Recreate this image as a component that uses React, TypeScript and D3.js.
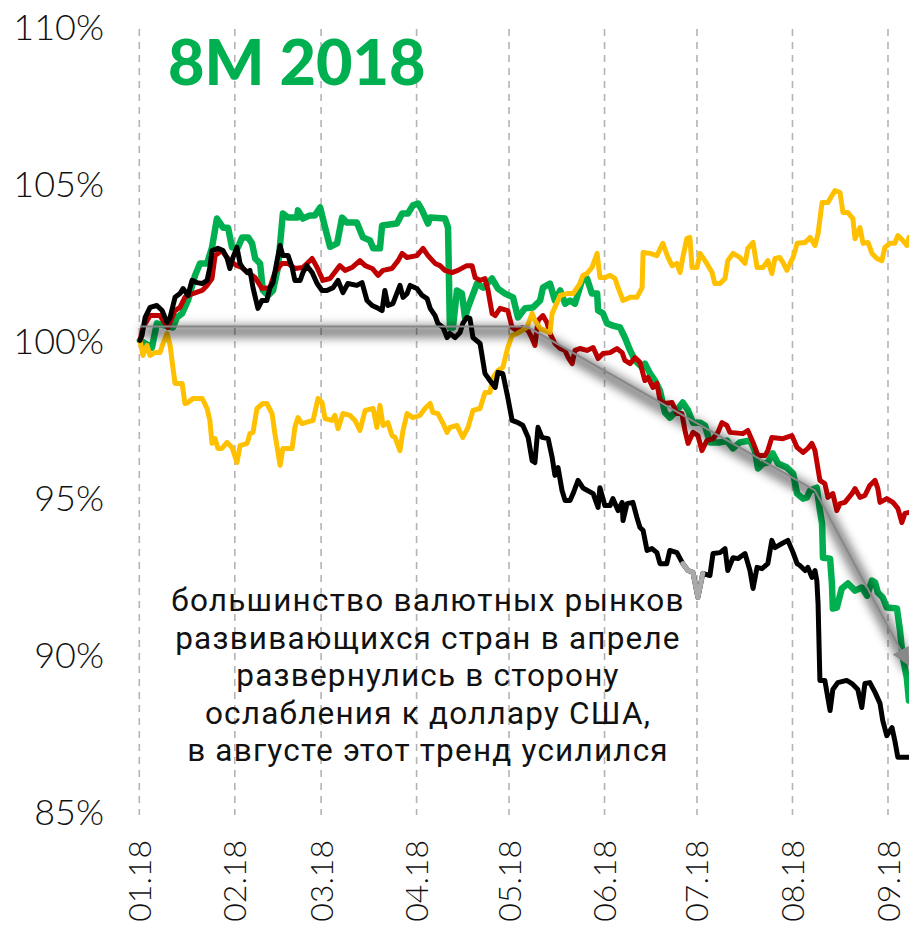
import React from "react";
import * as d3 from "d3";

// ---- data: [day offset from 1 Jan 2018, value in %] ----
const GREEN: [number, number][] = [
  [0.2, 100.02], [4.1, 99.79], [5.7, 100.56], [10.9, 100.43], [12.2, 100.75], [13.9, 100.88], [15.8, 101.29],
  [18.1, 102.09], [19.7, 102.47], [22.0, 102.47], [23.6, 102.98], [25.2, 103.9], [27.2, 103.61], [28.8, 103.61],
  [30.1, 102.98], [32.0, 102.98], [33.4, 103.3], [35.3, 103.3], [36.6, 103.11], [37.6, 102.63], [39.2, 102.47],
  [40.1, 101.61], [41.8, 101.45], [43.4, 101.61], [45.0, 102.34], [46.6, 104.06], [48.3, 103.93], [51.2, 103.93],
  [51.5, 104.16], [53.1, 103.9], [55.4, 104.0], [57.0, 104.0], [58.7, 104.25], [60.3, 103.61], [61.9, 103.0],
  [64.2, 103.11], [65.8, 103.93], [67.4, 103.77], [70.6, 103.77], [72.6, 103.3], [74.9, 103.2], [75.9, 102.95],
  [78.1, 102.95], [78.8, 103.68], [83.6, 103.74], [85.3, 104.06], [87.2, 104.06], [88.8, 104.32], [90.5, 104.38],
  [91.8, 104.16], [93.7, 103.74], [94.4, 103.93], [99.2, 103.9], [100.2, 103.61], [100.8, 100.43], [101.8, 100.43],
  [103.1, 101.61], [104.7, 101.51], [105.7, 100.75], [106.7, 101.07], [109.6, 101.83], [111.6, 101.7], [114.5, 101.99],
  [116.4, 101.67], [118.7, 101.51], [121.3, 101.39], [122.9, 100.75], [125.2, 101.04], [127.8, 101.07], [130.1, 101.29],
  [131.0, 101.7], [133.3, 101.83], [134.9, 101.29], [136.6, 101.61], [138.2, 101.19], [139.8, 101.29], [141.4, 101.19],
  [143.7, 101.93], [145.3, 101.99], [146.9, 101.51], [148.6, 101.51], [148.9, 100.97], [150.5, 100.88], [151.8, 100.56],
  [153.7, 100.49], [156.0, 100.43], [157.6, 100.11], [159.3, 99.7], [160.9, 99.38], [163.2, 99.16], [164.1, 99.28],
  [165.8, 98.96], [167.4, 98.74], [169.0, 98.42], [170.6, 97.72], [172.2, 97.56], [174.5, 97.79], [176.4, 98.04],
  [178.1, 97.79], [179.7, 97.4], [182.0, 97.4], [183.6, 97.31], [185.2, 96.77], [188.5, 96.77], [190.7, 96.83],
  [192.7, 96.58], [194.9, 96.77], [198.2, 96.83], [199.8, 96.51], [200.8, 95.94], [202.4, 96.1], [204.0, 96.13],
  [205.6, 96.42], [207.3, 96.1], [210.2, 95.97], [212.2, 95.78], [213.5, 95.14], [215.4, 94.98], [216.7, 95.02],
  [217.7, 95.24], [219.9, 95.33], [220.9, 94.6], [221.6, 94.19], [221.9, 93.1], [224.2, 93.07], [224.8, 92.28],
  [225.1, 91.48], [226.4, 91.51], [228.0, 92.12], [230.0, 92.28], [232.3, 92.05], [234.5, 92.15], [236.2, 91.89],
  [237.8, 92.37], [238.8, 92.31], [239.7, 91.99], [241.3, 91.83], [242.6, 91.51], [245.9, 91.48], [246.9, 90.78],
  [247.8, 89.92], [249.1, 89.28], [249.8, 88.55],
];

const RED: [number, number][] = [
  [0.2, 100.02], [1.2, 100.43], [3.5, 100.81], [6.7, 100.81], [9.3, 100.43], [11.6, 100.97], [13.2, 101.07],
  [14.8, 101.39], [17.4, 101.51], [20.4, 101.61], [22.0, 101.77], [23.6, 101.99], [24.6, 102.72], [26.8, 102.88],
  [28.5, 102.66], [30.1, 102.5], [31.7, 102.4], [33.4, 102.34], [35.3, 102.18], [37.6, 102.02], [39.8, 101.67],
  [42.4, 101.7], [44.0, 102.18], [46.3, 102.47], [48.3, 102.47], [50.5, 102.31], [53.1, 102.34], [56.1, 102.63],
  [57.7, 102.34], [59.6, 101.93], [61.9, 101.99], [65.1, 102.4], [66.8, 102.25], [69.0, 102.34], [71.6, 102.56],
  [73.3, 102.4], [75.6, 102.31], [77.5, 102.09], [79.1, 102.25], [82.0, 102.31], [84.0, 102.56], [85.3, 102.79],
  [86.9, 102.66], [90.1, 102.72], [92.1, 102.95], [93.7, 102.72], [96.0, 102.47], [97.6, 102.4], [99.2, 102.25],
  [101.5, 102.18], [103.4, 102.25], [106.3, 102.4], [108.0, 102.4], [109.0, 102.02], [110.6, 101.93], [112.2, 101.99],
  [113.2, 101.61], [114.5, 100.88], [115.5, 100.81], [117.1, 101.04], [119.6, 100.97], [121.0, 100.43], [122.6, 100.33],
  [124.2, 100.43], [126.2, 100.33], [127.5, 100.08], [128.4, 99.86], [129.4, 100.65], [131.0, 100.81], [132.3, 100.59],
  [133.3, 100.24], [134.9, 99.92], [136.6, 99.76], [138.2, 99.7], [139.2, 99.47], [140.5, 99.28], [141.4, 99.7],
  [143.0, 99.76], [145.3, 99.7], [147.3, 99.79], [148.9, 99.44], [150.5, 99.6], [152.8, 99.63], [155.0, 99.76],
  [156.7, 99.63], [157.6, 99.38], [159.3, 99.28], [160.9, 99.47], [162.5, 99.32], [164.1, 98.74], [165.1, 98.84],
  [166.7, 98.52], [168.0, 98.65], [169.0, 98.11], [170.6, 98.01], [172.9, 98.04], [174.5, 97.69], [176.1, 97.69],
  [177.1, 97.15], [178.1, 96.74], [179.7, 97.09], [181.3, 96.99], [182.6, 96.51], [184.2, 96.83], [186.2, 96.89],
  [187.8, 97.09], [189.1, 97.4], [190.7, 97.31], [191.7, 97.09], [195.9, 97.05], [197.5, 97.15], [199.2, 96.77],
  [200.8, 96.35], [203.1, 96.35], [204.0, 96.51], [205.3, 96.93], [208.9, 96.89], [211.8, 96.99], [213.5, 96.61],
  [215.4, 96.45], [217.0, 96.58], [218.3, 96.74], [219.3, 96.51], [220.9, 95.56], [222.5, 95.46], [223.5, 95.02],
  [225.1, 95.14], [226.4, 94.6], [227.4, 94.82], [229.0, 94.86], [231.3, 95.14], [232.3, 95.3], [233.9, 95.02],
  [235.5, 95.08], [237.1, 95.4], [238.8, 95.56], [239.7, 95.3], [240.4, 94.86], [242.6, 94.98], [244.6, 94.86],
  [246.2, 94.67], [247.5, 94.22], [248.5, 94.51], [249.8, 94.54],
];

const YELLOW: [number, number][] = [
  [0.2, 100.02], [1.2, 99.54], [2.5, 99.86], [3.5, 99.54], [5.1, 99.63], [6.7, 99.63], [7.7, 99.92], [9.0, 100.24],
  [10.0, 99.86], [10.9, 99.16], [11.6, 98.65], [13.9, 98.65], [14.8, 98.01], [15.8, 98.04], [17.4, 98.17],
  [20.4, 98.17], [22.0, 97.85], [22.9, 97.47], [23.6, 96.74], [24.6, 96.89], [25.5, 96.58], [26.8, 96.58],
  [28.5, 96.77], [30.1, 96.61], [31.7, 96.13], [32.7, 96.67], [35.0, 96.74], [35.9, 97.05], [36.9, 97.09],
  [38.2, 97.85], [40.1, 98.01], [41.4, 98.01], [43.1, 97.69], [44.0, 97.05], [45.7, 96.04], [46.6, 96.58],
  [49.6, 96.58], [50.5, 97.25], [51.5, 97.56], [52.8, 97.37], [56.4, 97.47], [58.0, 98.17], [59.3, 98.04],
  [60.3, 97.53], [62.5, 97.47], [63.5, 97.63], [64.5, 97.21], [66.1, 97.69], [68.4, 97.63], [70.0, 97.47],
  [71.6, 97.15], [73.3, 97.79], [75.9, 97.85], [77.1, 97.25], [78.1, 97.95], [79.1, 97.31], [80.7, 97.4],
  [82.0, 96.99], [83.0, 96.93], [84.6, 96.51], [85.6, 97.15], [86.9, 97.69], [88.8, 97.56], [91.1, 97.63],
  [92.7, 97.85], [94.4, 98.01], [95.3, 97.72], [96.9, 97.69], [98.6, 97.37], [99.9, 97.09], [100.8, 97.25],
  [103.1, 97.31], [105.0, 96.93], [106.7, 97.25], [108.3, 97.79], [110.6, 97.85], [112.2, 98.36], [113.8, 98.36],
  [114.8, 98.84], [116.4, 99.06], [118.0, 99.16], [119.6, 99.79], [121.0, 100.18], [122.6, 100.24], [124.2, 100.33],
  [125.8, 100.43], [127.5, 100.88], [128.4, 100.65], [130.1, 100.4], [131.7, 100.33], [133.3, 100.27], [134.0, 100.88],
  [135.6, 101.23], [136.6, 101.45], [138.8, 101.51], [140.8, 101.51], [142.1, 101.7], [143.0, 101.83], [144.0, 102.09],
  [145.3, 102.15], [146.9, 102.34], [148.6, 102.79], [149.5, 102.02], [151.1, 102.02], [152.8, 102.09], [154.4, 101.99],
  [155.4, 101.7], [157.0, 101.29], [159.3, 101.39], [161.5, 101.39], [163.2, 101.7], [163.5, 102.82], [165.8, 102.79],
  [168.0, 102.72], [169.9, 103.11], [171.6, 102.66], [172.9, 102.4], [174.5, 102.47], [175.5, 102.18], [176.4, 102.66],
  [177.7, 103.26], [178.7, 103.3], [179.4, 102.34], [181.0, 102.34], [182.0, 102.79], [183.6, 102.56], [184.6, 102.4],
  [185.9, 102.18], [186.8, 101.83], [188.5, 101.83], [190.1, 101.99], [191.0, 102.56], [192.7, 102.79], [194.9, 102.66],
  [196.6, 102.47], [197.5, 102.95], [199.2, 103.14], [200.5, 102.34], [202.4, 102.34], [204.0, 102.56], [205.3, 102.15],
  [206.3, 102.63], [207.9, 102.66], [208.9, 102.5], [210.2, 102.25], [211.2, 102.47], [212.2, 102.66], [213.5, 103.11],
  [216.1, 103.14], [217.7, 103.3], [219.3, 103.04], [220.3, 103.42], [221.6, 104.41], [223.5, 104.41], [224.8, 104.63],
  [225.8, 104.79], [227.4, 104.73], [228.4, 104.09], [230.0, 104.09], [231.6, 103.9], [232.3, 103.26], [233.9, 103.61],
  [234.9, 103.11], [236.5, 103.14], [237.8, 102.79], [239.4, 102.63], [241.0, 102.56], [242.0, 102.98], [243.6, 103.11],
  [245.2, 103.11], [246.2, 103.36], [247.8, 103.2], [249.1, 103.04], [249.8, 103.3],
];

const BLACK: [number, number][] = [
  [0.2, 100.02], [0.9, 100.18], [1.9, 100.75], [3.5, 101.07], [5.7, 101.13], [7.4, 100.97], [9.0, 100.59],
  [10.0, 100.75], [11.6, 101.39], [13.2, 101.51], [14.2, 101.67], [15.8, 101.45], [17.1, 101.93], [18.7, 101.86],
  [20.4, 101.83], [22.0, 101.93], [22.9, 102.34], [23.6, 102.88], [25.5, 102.95], [27.2, 102.88], [28.5, 102.63],
  [29.4, 102.31], [30.4, 102.66], [31.7, 102.98], [32.7, 102.47], [33.7, 102.31], [35.0, 102.18], [35.9, 102.25],
  [36.9, 101.7], [38.5, 101.04], [39.8, 101.29], [41.4, 101.29], [42.4, 101.7], [43.4, 101.86], [44.7, 102.56],
  [45.7, 103.04], [46.6, 102.72], [48.3, 102.72], [49.6, 102.34], [50.5, 101.93], [52.2, 101.93], [53.1, 102.18],
  [54.4, 102.4], [56.1, 102.18], [57.7, 101.83], [59.3, 101.61], [60.9, 101.61], [62.9, 101.7], [64.5, 101.93],
  [66.1, 101.54], [67.7, 101.83], [70.6, 101.77], [72.3, 101.86], [73.9, 101.29], [75.6, 101.13], [77.5, 101.04],
  [78.8, 100.97], [79.7, 101.61], [80.7, 101.13], [82.3, 101.19], [84.6, 101.77], [85.6, 101.39], [86.9, 101.51],
  [87.9, 101.77], [90.1, 101.67], [91.8, 101.45], [93.4, 101.35], [94.4, 101.04], [96.0, 100.81], [96.9, 100.56],
  [98.6, 100.43], [99.9, 100.11], [100.8, 100.24], [102.5, 100.11], [104.1, 100.27], [105.0, 100.56], [106.3, 100.75],
  [107.3, 100.72], [108.3, 100.11], [110.6, 99.92], [112.2, 98.96], [113.8, 98.74], [115.5, 98.52], [116.4, 99.0],
  [118.0, 98.96], [119.6, 98.2], [121.0, 97.47], [122.9, 97.4], [124.5, 97.31], [126.2, 96.93], [127.5, 96.19],
  [128.4, 96.13], [129.4, 97.25], [130.7, 96.93], [132.7, 96.89], [134.0, 96.29], [134.9, 95.72], [135.9, 95.97],
  [137.2, 95.24], [138.2, 94.92], [139.8, 94.92], [140.8, 95.14], [142.4, 95.56], [144.0, 95.32], [147.3, 95.14],
  [148.9, 94.7], [149.5, 95.33], [151.1, 94.76], [152.8, 94.76], [153.7, 94.98], [155.4, 94.6], [156.7, 94.86],
  [157.0, 94.28], [158.3, 94.82], [160.2, 94.86], [161.5, 94.38], [162.5, 94.06], [163.5, 93.97], [164.8, 93.33],
  [166.4, 93.39], [168.0, 93.26], [169.0, 92.91], [171.2, 92.91], [172.2, 93.33], [174.5, 93.26], [176.4, 92.91],
  [178.1, 92.69], [179.7, 92.63], [181.3, 91.83], [182.9, 92.6], [185.2, 92.53], [186.2, 93.23], [188.5, 93.26],
  [190.1, 93.39], [191.0, 92.69], [192.7, 93.1], [194.3, 93.07], [196.6, 93.23], [198.2, 92.69], [199.2, 92.12],
  [200.5, 92.79], [202.1, 92.75], [204.0, 92.91], [205.3, 93.65], [206.3, 93.42], [208.6, 93.55], [210.5, 93.65],
  [212.2, 93.26], [213.5, 92.91], [214.4, 92.85], [216.1, 92.69], [217.0, 92.79], [218.3, 92.47], [219.3, 92.69],
  [219.9, 92.37], [220.3, 91.64], [220.9, 89.19], [222.5, 89.19], [224.2, 88.23], [225.1, 88.9], [226.7, 89.12],
  [229.6, 89.19], [231.3, 89.09], [233.2, 88.9], [234.5, 88.33], [235.5, 89.09], [237.1, 89.12], [238.8, 88.81],
  [240.4, 88.46], [241.3, 87.91], [242.6, 87.43], [244.3, 87.69], [245.2, 87.28], [246.2, 86.74], [247.8, 86.74],
  [249.8, 86.74],
];

// highlighted (grey) stretch of the black line, in day offsets
const BLACK_GREY_SPAN: [number, number] = [176.4, 184.6];

// trend arrow: [day offset, value]
const TREND: [number, number][] = [
  [0.2, 100.46], [125.8, 100.46], [219.3, 95.24], [249.6, 89.7],
];

const Y_TICKS = [85, 90, 95, 100, 105, 110];
const TITLE = "8M 2018";
const NOTE_LINES = [
  "большинство валютных рынков",
  "развивающихся стран в апреле",
  "развернулись в сторону",
  "ослабления к доллару США,",
  "в августе этот тренд усилился",
];

const START = new Date(2018, 0, 1);
const END = new Date(2018, 8, 1);
const toDate = (d: number) => new Date(START.getTime() + d * 86400000);

export default function App() {
  const W = 909, H = 927;
  const x = d3.scaleTime().domain([START, END]).range([139.3, 888]);
  const y = d3.scaleLinear().domain([85, 110]).range([812, 27]);
  const line = d3
    .line<[number, number]>()
    .x((d) => x(toDate(d[0])))
    .y((d) => y(d[1]));

  const months = d3.timeMonth.range(START, d3.timeDay.offset(END, 1));
  const fmt = d3.timeFormat("%m.%y");

  const greySeg = BLACK.filter((d) => d[0] >= BLACK_GREY_SPAN[0] && d[0] <= BLACK_GREY_SPAN[1]);

  const axisFont = "Lato, 'Open Sans', sans-serif";

  return (
    <svg
      width={W}
      height={H}
      style={{ position: "absolute", left: 0, top: 0, background: "#fff" }}
    >
      <defs>
        <filter id="blur" x="-20%" y="-50%" width="140%" height="200%">
          <feGaussianBlur stdDeviation="5" />
        </filter>
        <marker id="arrowBig" viewBox="0 0 10 10" refX="9" refY="5" markerWidth="22" markerHeight="18" orient="auto" markerUnits="userSpaceOnUse">
          <path d="M0,0 L10,5 L0,10 z" fill="#888" />
        </marker>
      </defs>

      {/* grid lines */}
      {months.map((m, i) => (
        <line
          key={i}
          x1={x(m)}
          x2={x(m)}
          y1={29}
          y2={815}
          stroke="#b4b4b4"
          strokeWidth={1.6}
          strokeDasharray="7 6"
        />
      ))}

      {/* y labels */}
      {Y_TICKS.map((t) => (
        <text
          key={t}
          x={104}
          y={y(t) + 13}
          textAnchor="end"
          fontFamily={axisFont}
          fontWeight={300}
          fontSize={36}
          fill="#111"
        >
          {t}%
        </text>
      ))}

      {/* x labels */}
      {months.map((m, i) => (
        <text
          key={i}
          transform={`translate(${x(m) + 11.5},840) rotate(-90)`}
          textAnchor="end"
          fontFamily={axisFont}
          fontWeight={300}
          fontSize={32}
          fill="#111"
        >
          {fmt(m)}
        </text>
      ))}

      {/* title */}
      <text x={168} y={85} fontFamily="Lato, sans-serif" fontWeight={900} fontSize={63} fill="#00B050">
        {TITLE}
      </text>

      {/* series */}
      <path d={line(GREEN) ?? ""} fill="none" stroke="#00B050" strokeWidth={6.5} strokeLinejoin="round" strokeLinecap="round" />
      <path d={line(RED) ?? ""} fill="none" stroke="#C00000" strokeWidth={5} strokeLinejoin="round" strokeLinecap="round" />
      <path d={line(YELLOW) ?? ""} fill="none" stroke="#FFC000" strokeWidth={5} strokeLinejoin="round" strokeLinecap="round" />
      <path d={line(BLACK) ?? ""} fill="none" stroke="#000" strokeWidth={5} strokeLinejoin="round" strokeLinecap="round" />
      <path d={line(greySeg) ?? ""} fill="none" stroke="#aaa" strokeWidth={5} strokeLinejoin="round" strokeLinecap="round" />

      {/* trend shadow + line */}
      <path
        d={line(TREND) ?? ""}
        fill="none"
        stroke="#000"
        strokeOpacity={0.45}
        strokeWidth={13}
        filter="url(#blur)"
        transform="translate(2,5)"
      />
      <path
        d={line(TREND) ?? ""}
        fill="none"
        stroke="#888"
        strokeWidth={2}
        markerEnd="url(#arrowBig)"
      />

      {/* annotation */}
      {NOTE_LINES.map((s, i) => (
        <text
          key={i}
          x={428}
          y={611 + i * 37.5}
          textAnchor="middle"
          fontFamily="Roboto, sans-serif"
          fontSize={31.5}
          letterSpacing={1.2}
          fill="#111"
        >
          {s}
        </text>
      ))}
    </svg>
  );
}
